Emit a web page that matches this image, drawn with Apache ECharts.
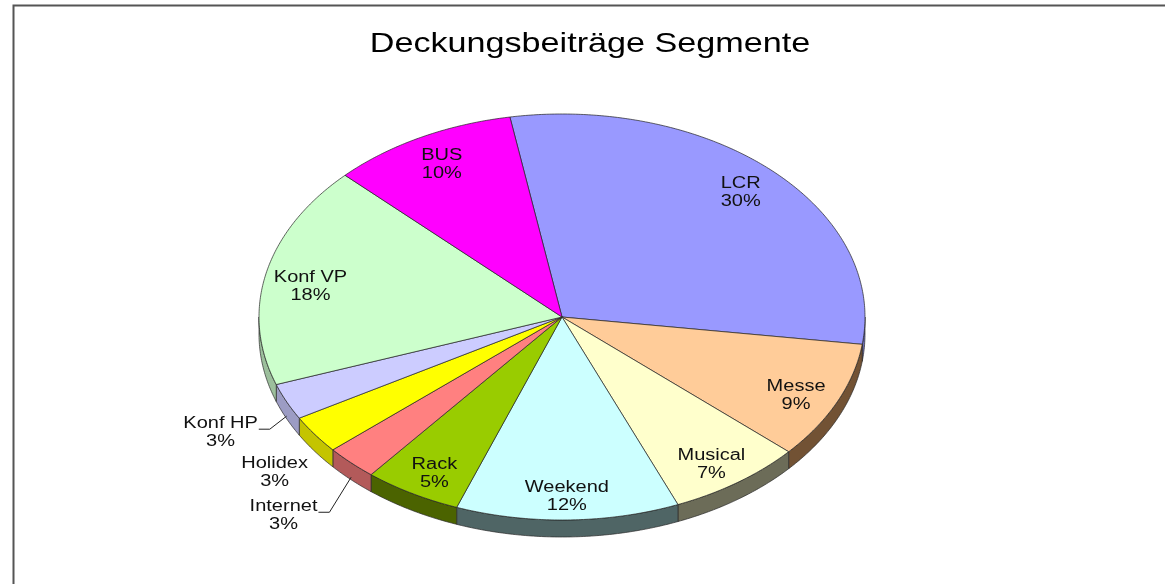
<!DOCTYPE html>
<html>
<head>
<meta charset="utf-8">
<script src="https://cdn.jsdelivr.net/npm/echarts@6/dist/echarts.min.js"></script>
<style>
  html, body { margin: 0; padding: 0; background: #fff; }
  #chart { width: 1165px; height: 584px; }
</style>
</head>
<body>
<div id="chart"></div>
<script>
// data
var categories = ['LCR', 'Messe', 'Musical', 'Weekend', 'Rack', 'Internet', 'Holidex', 'Konf HP', 'Konf VP', 'BUS'];
var values = [29.9, 9.4, 7.2, 11.9, 5.2, 2.8, 3.05, 2.9, 17.7, 9.95];

// styles
var topColors = ['#9999ff', '#ffcc99', '#ffffcc', '#ccffff', '#99cc00', '#ff8080', '#ffff00', '#ccccff', '#ccffcc', '#ff00ff'];
var sideColors = ['#6b6bb3', '#725234', '#6c6c58', '#4f6565', '#4b6300', '#b35a5a', '#c4c400', '#9c9cc4', '#9cbf9c', '#b300b3'];
var outside = { 'Konf HP': { dx: 0, dy: 0, leader: true }, 'Holidex': { dx: 19, dy: -4, leader: false }, 'Internet': { dx: -17, dy: 0, leader: true } };

var cx = 562, cy = 317, rx = 303, ry = 203, depth = 17;
var startAngle = -9.9; // degrees, clockwise from 12 o'clock
var labelFont = '16px "Liberation Sans", Arial, sans-serif';
var textScale = 1.25;

var total = values.reduce(function (a, b) { return a + b; }, 0);
var starts = [];
(function () {
    var acc = 0;
    for (var i = 0; i < values.length; i++) { starts.push(acc); acc += values[i]; }
})();

var measureCtx = document.createElement('canvas').getContext('2d');
measureCtx.font = labelFont;

function pt(deg, fx, fy, dy) {
    var r = deg * Math.PI / 180;
    return [cx + fx * rx * Math.sin(r), cy - fy * ry * Math.cos(r) + (dy || 0)];
}

function arc(a, b, dy) {
    var pts = [];
    var n = Math.max(2, Math.ceil((b - a) / 0.5));
    for (var k = 0; k <= n; k++) pts.push(pt(a + (b - a) * k / n, 1, 1, dy));
    return pts;
}

function renderItem(params, api) {
    var i = params.dataIndex;
    var v = api.value(0);
    var a = startAngle + starts[i] / total * 360;
    var b = a + v / total * 360;
    var name = categories[i];
    var pct = Math.round(v / total * 100) + '%';
    var children = [];

    // side band (front half only)
    var sa = Math.max(a, 90), sb = Math.min(b, 270);
    if (sb > sa) {
        var upper = arc(sa, sb, 0);
        var lower = arc(sa, sb, depth).reverse();
        children.push({
            type: 'polygon', z2: 1,
            shape: { points: upper.concat(lower) },
            style: { fill: sideColors[i], stroke: '#2a2a2a', lineWidth: 0.7 }
        });
    }

    // top face
    children.push({
        type: 'polygon', z2: 10,
        shape: { points: [[cx, cy]].concat(arc(a, b, 0)) },
        style: { fill: topColors[i], stroke: '#222', lineWidth: 0.7 }
    });

    var mid = (a + b) / 2;
    var lp, o = outside[name];
    if (o) {
        lp = pt(mid, 1.24, 1.36, 0);
        lp[0] += o.dx; lp[1] += o.dy;
        if (o.leader) {
            var w = measureCtx.measureText(name).width * textScale;
            var x0 = lp[0] + w / 2 + 1, y0 = lp[1] - 3;
            var edge = pt(mid, 1, 1, depth * 0.85);
            children.push({
                type: 'polyline', z2: 15,
                shape: { points: [[x0, y0], [x0 + 11, y0], edge] },
                style: { stroke: '#222', lineWidth: 1, fill: null }
            });
        }
    } else {
        // labels in the nearer half sit a little lower (perspective)
        var c = Math.cos(mid * Math.PI / 180);
        var shift = 7 * Math.min(1, Math.max(0, (0.6 - c) / 0.4));
        lp = pt(mid, 0.85, 0.85, shift);
    }
    children.push({
        type: 'text', z2: 20,
        x: lp[0], y: lp[1], scaleX: textScale,
        style: {
            text: name + '\n' + pct,
            font: labelFont, lineHeight: 18,
            fill: '#111', align: 'center', verticalAlign: 'middle'
        }
    });

    return { type: 'group', children: children };
}

var chart = echarts.init(document.getElementById('chart'), null, { renderer: 'canvas' });
chart.setOption({
    animation: false,
    backgroundColor: '#fff',
    graphic: [
        {
            type: 'polyline',
            shape: { points: [[13.5, 584], [13.5, 5.5], [1165, 5.5]] },
            style: { stroke: '#555', lineWidth: 2, fill: null }
        },
        {
            type: 'text', x: 590, y: 44, scaleX: 1.22,
            style: {
                text: 'Deckungsbeiträge Segmente',
                font: '28px "Liberation Sans", Arial, sans-serif',
                fill: '#000', align: 'center', verticalAlign: 'middle'
            }
        }
    ],
    series: [{
        type: 'custom',
        coordinateSystem: 'none',
        renderItem: renderItem,
        data: values.map(function (v, i) { return { name: categories[i], value: [v] }; })
    }]
});
</script>
</body>
</html>
